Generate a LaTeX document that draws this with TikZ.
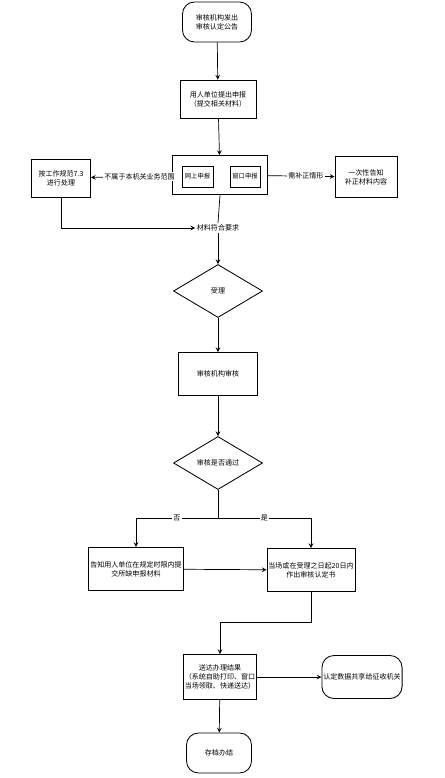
\documentclass[tikz,border=0pt]{standalone}
\usepackage{fontspec}
\newfontfamily\cjk{Noto Sans CJK SC}
\usetikzlibrary{shapes.geometric}

\begin{document}
\begin{tikzpicture}[x=0.025cm, y=-0.025cm, >=stealth, line width=0.5pt,
  font=\cjk\fontsize{5}{6.5}\selectfont,
  box/.style={draw, line width=0.6pt, align=center, inner sep=1pt},
  endbox/.style={box, rounded corners=0.3cm},
  check/.style={draw, diamond, line width=0.6pt, inner sep=0pt,
    minimum width=2.225cm, minimum height=1.325cm},
  tag/.style={fill=white, inner sep=1pt}]
  \useasboundingbox (0,0) rectangle (445,778);

  \node[endbox, minimum width=1.725cm, minimum height=1cm] (start) at (217,22)
    {审核机构发出\\审核认定公告};
  \node[box, minimum width=1.9cm, minimum height=0.95cm] (apply) at (218,99)
    {用人单位提出申报\\（提交相关材料）};
  \node[box, minimum width=2.375cm, minimum height=0.975cm] (submit) at (220,175) {};
  \node[box, minimum width=0.775cm, minimum height=0.525cm, font=\cjk\fontsize{4.5}{6}\selectfont]
    (online) at (197.5,176.5) {网上申报};
  \node[box, minimum width=0.75cm, minimum height=0.525cm, font=\cjk\fontsize{4.5}{6}\selectfont]
    (window) at (245,176.5) {窗口申报};
  \node[box, minimum width=1.475cm, minimum height=0.95cm] (other) at (61,178)
    {按工作规范7.3\\进行处理};
  \node[box, minimum width=1.55cm, minimum height=1.025cm] (notify) at (366,177)
    {一次性告知\\补正材料内容};
  \node[tag] (ok) at (218,228) {材料符合要求};

  \node[check] (accept) at (218,291) {受理};
  \node[box, minimum width=1.975cm, minimum height=1.075cm] (review) at (218,374) {审核机构审核};
  \node[check] (pass) at (218,463) {审核是否通过};
  \coordinate (branch) at (218,518);

  \node[box, minimum width=2.175cm, minimum height=1.075cm] (fail) at (136,569)
    {告知用人单位在规定时限内提\\交所缺申报材料};
  \node[box, minimum width=2.175cm, minimum height=1.075cm] (issue) at (311,570)
    {当场或在受理之日起20日内\\作出审核认定书};
  \coordinate (join) at (220,622);

  \node[box, minimum width=1.75cm, minimum height=1.125cm] (deliver) at (220,677)
    {送达办理结果\\（系统自助打印、窗口\\当场领取、快递送达）};
  \node[endbox, minimum width=1.925cm, minimum height=1.075cm] (share) at (362,677)
    {认定数据共享给征收机关};
  \node[endbox, minimum width=1.625cm, minimum height=1cm] (archive) at (219,753) {存档办结};

  % upper part
  \draw[->] (start) -- (apply);
  \draw[->] (apply) -- (submit);
  \draw[->] (submit) -- (other) node[tag, pos=0.4] {不属于本机关业务范围};
  \draw[->] (submit) -- (notify) node[tag, pos=0.57] {需补正情形};
  \draw[->] (other.south) |- (ok.west);
  \draw (submit.south) -- (ok.north);
  \draw[->] (ok.south) -- (accept.north);
  \draw[->] (accept) -- (review);
  \draw[->] (review) -- (pass);

  % branches
  \draw (pass.south) -- (branch);
  \draw[->] (branch) -| (fail.north) node[tag, pos=0.25] {否};
  \draw[->] (branch) -| (issue.north) node[tag, pos=0.25] {是};
  \draw[->] (fail) -- (issue);
  \draw[->] (issue.south) |- (join) -- (deliver.north);
  \draw[->] (deliver) -- (share);
  \draw[->] (deliver) -- (archive);
\end{tikzpicture}
\end{document}
